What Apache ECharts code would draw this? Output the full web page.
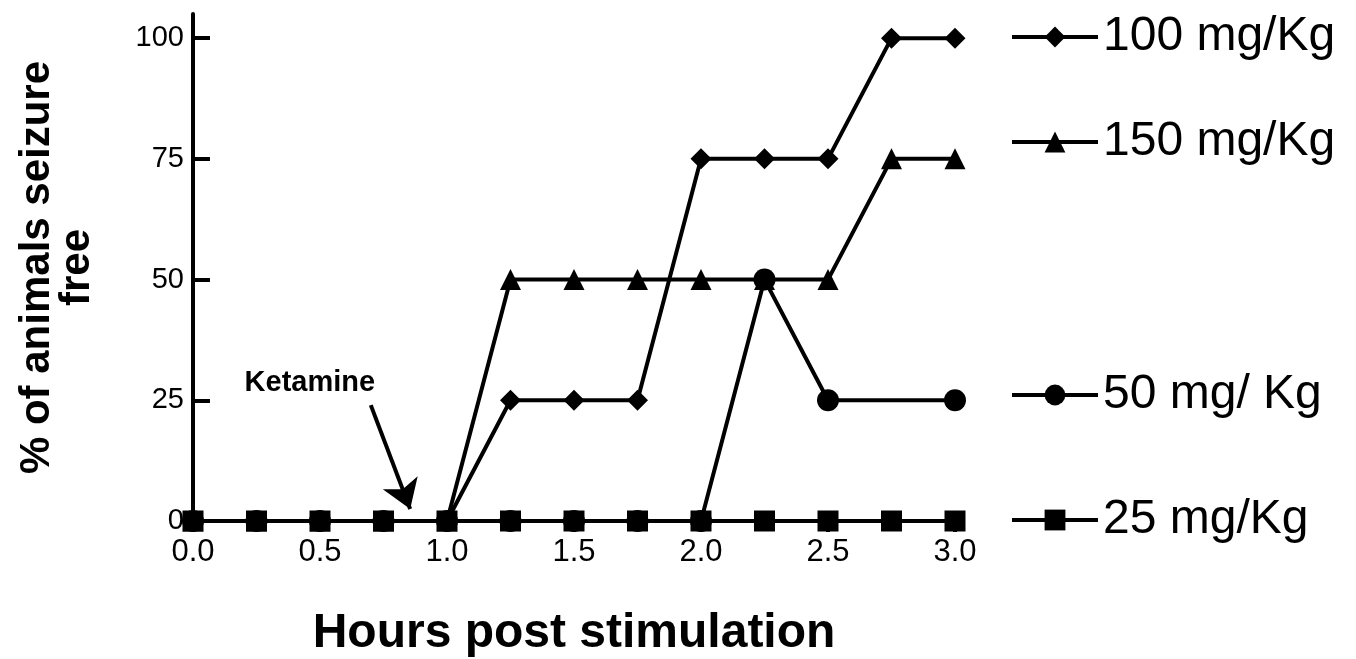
<!DOCTYPE html>
<html>
<head>
<meta charset="utf-8">
<script src="https://cdn.jsdelivr.net/npm/echarts@6/dist/echarts.min.js"></script>
<style>
html,body{margin:0;padding:0;background:#fff;}
#chart{width:1356px;height:659px;}
</style>
</head>
<body>
<div id="chart"></div>
<script>
const hours = [0, 0.25, 0.5, 0.75, 1.0, 1.25, 1.5, 1.75, 2.0, 2.25, 2.5, 2.75, 3.0];
const dose100 = [0, 0, 0, 0, 0, 25, 25, 25, 75, 75, 75, 100, 100];
const dose150 = [0, 0, 0, 0, 0, 50, 50, 50, 50, 50, 50, 75, 75];
const dose50  = [0, 0, 0, 0, 0, 0, 0, 0, 0, 50, 25, null, 25];
const dose25  = [0, 0, 0, 0, 0, 0, 0, 0, 0, 0, 0, 0, 0];
const seriesNames = ['100 mg/Kg', '150 mg/Kg', '50 mg/ Kg', '25 mg/Kg'];
const yTicks = [0, 25, 50, 75, 100];
const arrowFrom = [0.70, 24];
const arrowTo = [0.855, 2.5];
const labelPos = [0.46, 28.5];

const FONT = '"Liberation Sans", Arial, sans-serif';
const pairs = arr => hours.map((h, i) => [h, arr[i]]);

function lineSeries(name, data, symbol, size, extra) {
  return Object.assign({
    name: name, type: 'line', data: pairs(data), symbol: symbol, symbolSize: size,
    connectNulls: true,
    lineStyle: {color: '#000', width: 4},
    itemStyle: {color: '#000', borderWidth: 0},
    emphasis: {disabled: true},
    animation: false, z: 3
  }, extra || {});
}

const legendTops = [13, 118, 371, 496];
const legends = seriesNames.map((n, i) => ({
  data: [n], left: 1010, top: legendTops[i], padding: 0,
  itemWidth: 86, itemHeight: 26, selectedMode: false,
  lineStyle: {width: 4, color: '#000'},
  textStyle: {fontSize: 48, color: '#000', fontFamily: FONT, padding: [0, 0, 0, 0]},
  itemGap: 0
}));

const chart = echarts.init(document.getElementById('chart'), null, {renderer: 'canvas'});
chart.setOption({
  backgroundColor: '#fff',
  animation: false,
  grid: {left: 193, right: 401, top: 14, bottom: 138, outerBoundsMode: 'none', containLabel: false},
  legend: legends,
  xAxis: {
    type: 'value', min: 0, max: 3, interval: 0.5,
    name: 'Hours post stimulation', nameLocation: 'middle', nameGap: 89,
    nameTextStyle: {fontSize: 48, fontWeight: 'bold', color: '#000', fontFamily: FONT},
    axisLine: {lineStyle: {color: '#000', width: 4}},
    axisTick: {show: true, inside: false, length: 11, lineStyle: {color: '#000', width: 4}},
    axisLabel: {fontSize: 31, color: '#000', fontFamily: FONT, margin: 16,
      formatter: v => v.toFixed(1)},
    splitLine: {show: false}
  },
  yAxis: {
    type: 'value', min: 0, max: 105,
    name: '% of animals seizure\nfree', nameLocation: 'middle', nameGap: 96,
    nameTextStyle: {fontSize: 42, fontWeight: 'bold', color: '#000', fontFamily: FONT, lineHeight: 40},
    axisLine: {lineStyle: {color: '#000', width: 4}},
    axisTick: {show: true, inside: true, length: 17, customValues: yTicks, lineStyle: {color: '#000', width: 4}},
    axisLabel: {fontSize: 29, color: '#000', fontFamily: FONT, margin: 9, customValues: yTicks},
    splitLine: {show: false}
  },
  series: [
    lineSeries(seriesNames[2], dose50, 'circle', 22),
    lineSeries(seriesNames[0], dose100, 'diamond', 21),
    lineSeries(seriesNames[1], dose150, 'triangle', 21),
    lineSeries(seriesNames[3], dose25, 'rect', 21, {
      markLine: {
        silent: true, animation: false,
        symbol: ['none', 'arrow'], symbolSize: 28,
        lineStyle: {color: '#000', width: 4, type: 'solid'},
        label: {show: false},
        data: [[{coord: arrowFrom}, {coord: arrowTo}]]
      },
      markPoint: {
        silent: true, animation: false,
        symbol: 'circle', symbolSize: 0,
        label: {show: true, formatter: 'Ketamine', fontSize: 29, fontWeight: 'bold', color: '#000', fontFamily: FONT, position: 'inside'},
        data: [{coord: labelPos}]
      }
    })
  ]
});
</script>
</body>
</html>
